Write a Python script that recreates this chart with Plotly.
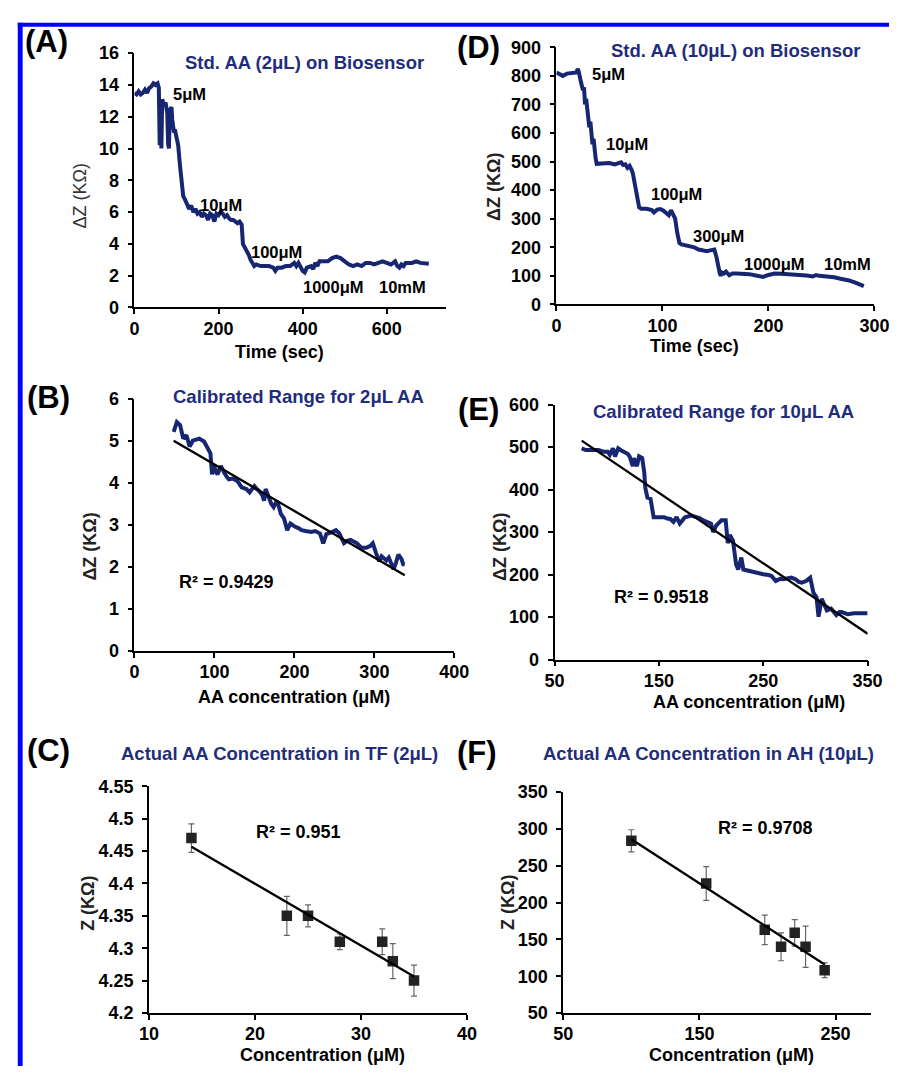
import numpy as np
import plotly.graph_objects as go

W, H = 904, 1076

# ---------------- data ----------------
# (A) Std. AA (2uL) on biosensor : time (sec) vs dZ (KOhm)
A_time = [0, 5, 10, 15, 20, 25, 30, 35, 40, 45, 50, 55, 58, 60, 62, 64, 66, 70, 74, 78, 80, 82, 84,
          88, 90, 94, 96, 100, 104, 108, 112, 116, 120, 126, 130, 135, 140, 145, 150, 155, 160, 165,
          170, 175, 180, 185, 190, 195, 200, 205, 210, 215, 220, 225, 230, 235, 240, 245, 250, 255,
          258, 262, 268, 272, 276, 280, 285, 290, 300, 310, 320, 330, 335, 340, 350, 360, 370, 380,
          385, 390, 395, 400, 405, 410, 420, 425, 430, 435, 440, 450, 460, 470, 480, 490, 500, 510,
          520, 530, 540, 550, 560, 570, 580, 590, 600, 610, 620, 625, 630, 635, 640, 645, 660, 670,
          680, 690, 700]
A_dz = [13.5, 13.4, 13.6, 13.4, 13.5, 13.7, 13.5, 13.8, 13.9, 14.1, 14.0, 14.1, 13.8, 10.2, 12.8,
        10.0, 13.1, 12.7, 12.9, 12.2, 10.3, 10.0, 12.4, 12.6, 11.8, 11.0, 11.2, 10.6, 10.2, 9.0, 8.0,
        7.0, 6.8, 6.5, 6.2, 6.4, 6.0, 6.2, 5.9, 6.0, 5.7, 5.9, 5.8, 5.5, 5.9, 5.8, 5.4, 5.9, 5.8, 6.0,
        5.9, 5.7, 5.8, 5.6, 5.5, 5.5, 5.4, 5.3, 5.4, 5.2, 4.0, 3.8, 3.6, 3.3, 3.0, 2.8, 2.6, 2.7, 2.6,
        2.6, 2.6, 2.5, 2.3, 2.5, 2.5, 2.6, 2.6, 2.8, 2.6, 2.8, 2.5, 2.3, 2.2, 2.5, 2.6, 2.4, 2.8, 2.6,
        2.9, 2.9, 2.9, 3.1, 3.2, 3.1, 2.9, 2.7, 2.6, 2.7, 2.6, 2.8, 2.8, 2.7, 2.8, 2.9, 2.8, 2.7, 2.9,
        2.6, 2.5, 2.7, 2.6, 2.8, 2.8, 2.9, 2.8, 2.8, 2.75]
A_labels = ["5\u03bcM", "10\u03bcM", "100\u03bcM", "1000\u03bcM", "10mM"]

# (D) Std. AA (10uL) on biosensor
D_time = [0, 3, 6, 10, 15, 19, 20, 21, 23, 25, 26, 27, 28, 29, 30, 31, 32, 33, 34, 35, 36, 37, 38,
          42, 46, 50, 55, 58, 61, 63, 65, 67, 69, 71, 72, 74, 76, 78, 80, 85, 90, 92, 95, 98, 101,
          104, 106, 108, 110, 112, 114, 116, 118, 122, 126, 130, 134, 138, 142, 146, 149, 151, 152,
          154, 155, 156, 158, 160, 163, 166, 170, 176, 182, 187, 192, 195, 200, 206, 212, 218, 224,
          230, 236, 242, 245, 248, 255, 262, 268, 272, 276, 282, 286, 290]
D_dz = [812, 805, 800, 808, 810, 812, 825, 815, 780, 750, 760, 700, 720, 690, 650, 620, 640, 600,
        560, 580, 530, 510, 492, 492, 495, 495, 490, 495, 497, 488, 490, 478, 485, 470, 460, 420,
        380, 340, 335, 335, 330, 322, 332, 334, 328, 320, 312, 330, 310, 300, 250, 215, 210, 207,
        204, 200, 192, 188, 186, 190, 192, 165, 140, 110, 100, 112, 108, 115, 102, 108, 108, 108,
        106, 102, 98, 96, 103, 108, 107, 106, 104, 103, 101, 98, 103, 100, 98, 95, 90, 88, 84, 76,
        70, 64]
D_labels = ["5\u03bcM", "10\u03bcM", "100\u03bcM", "300\u03bcM", "1000\u03bcM", "10mM"]

# (B) calibrated range 2uL : AA concentration (uM) vs dZ
B_conc = [49, 53, 57, 61, 65, 69, 73, 77, 81, 87, 91, 95, 97, 99, 102, 104, 108, 110, 112, 115, 118,
          123, 128, 131, 134, 140, 144, 147, 150, 153, 156, 160, 162, 164, 168, 171, 174, 178, 181,
          183, 187, 191, 195, 198, 201, 205, 209, 214, 221, 226, 232, 236, 238, 240, 246, 252, 256,
          259, 262, 266, 270, 274, 278, 284, 290, 295, 298, 302, 306, 309, 312, 315, 318, 321, 324,
          327, 330, 334, 336, 338]
B_dz = [5.21, 5.44, 5.37, 5.05, 5.13, 4.86, 5.0, 5.02, 5.05, 4.98, 4.85, 4.70, 4.20, 4.43, 4.25,
        4.2, 4.4, 4.3, 4.25, 4.15, 4.08, 4.1, 4.05, 3.98, 3.89, 3.85, 3.77, 3.85, 3.92, 3.85, 3.80,
        3.70, 3.57, 3.85, 3.65, 3.50, 3.42, 3.57, 3.40, 3.26, 3.15, 2.87, 3.03, 2.98, 2.95, 2.92,
        2.87, 2.85, 2.83, 2.85, 2.79, 2.56, 2.70, 2.78, 2.82, 2.87, 2.80, 2.65, 2.56, 2.62, 2.64,
        2.60, 2.56, 2.45, 2.45, 2.50, 2.56, 2.33, 2.13, 2.25, 2.20, 2.15, 2.22, 2.05, 1.94, 2.10,
        2.29, 2.18, 2.06, 2.05]
B_r2 = "R\u00b2 = 0.9429"

# (E) calibrated range 10uL
E_conc = [76, 80, 86, 92, 97, 101, 103, 106, 108, 111, 114, 117, 120, 122, 125, 126, 129, 131, 134,
          136, 137, 139, 142, 145, 150, 155, 158, 161, 164, 167, 170, 173, 175, 181, 186, 189, 192,
          195, 200, 202, 205, 210, 214, 216, 218, 221, 224, 226, 229, 231, 237, 243, 250, 255, 258,
          262, 266, 269, 273, 277, 281, 284, 287, 291, 295, 298, 301, 303, 306, 309, 311, 315, 318,
          320, 323, 325, 331, 337, 345, 350]
E_dz = [497, 493, 493, 493, 489, 489, 482, 497, 478, 497, 492, 489, 484, 478, 455, 474, 455, 478,
        474, 440, 404, 381, 378, 335, 335, 335, 332, 331, 324, 335, 320, 328, 335, 339, 335, 333,
        328, 324, 320, 300, 316, 328, 328, 274, 293, 280, 224, 212, 240, 212, 208, 205, 201, 199,
        197, 185, 190, 189, 192, 193, 189, 183, 181, 185, 193, 158, 147, 101, 143, 125, 116, 120,
        110, 105, 112, 112, 107, 109, 109, 109]
E_r2 = "R\u00b2 = 0.9518"

# (C) actual AA concentration in TF (2uL)
C_conc = [14, 23, 25, 28, 32, 33, 35]
C_z = [4.47, 4.35, 4.35, 4.31, 4.31, 4.28, 4.25]
C_err = [0.022, 0.03, 0.017, 0.012, 0.02, 0.027, 0.024]
C_r2 = "R\u00b2 = 0.951"

# (F) actual AA concentration in AH (10uL)
F_conc = [100, 155, 198, 210, 220, 228, 242]
F_z = [284, 226, 163, 140, 159, 140, 108]
F_err = [15, 23, 20, 19, 18, 28, 10]
F_r2 = "R\u00b2 = 0.9708"

# tick labels
A_xticks = [0, 200, 400, 600]
A_yticks = [0, 2, 4, 6, 8, 10, 12, 14, 16]
D_xticks = [0, 100, 200, 300]
D_yticks = [0, 100, 200, 300, 400, 500, 600, 700, 800, 900]
B_xticks = [0, 100, 200, 300, 400]
B_yticks = [0, 1, 2, 3, 4, 5, 6]
E_xticks = [50, 150, 250, 350]
E_yticks = [0, 100, 200, 300, 400, 500, 600]
C_xticks = [10, 20, 30, 40]
C_yticks = [4.2, 4.25, 4.3, 4.35, 4.4, 4.45, 4.5, 4.55]
C_yticktext = ["4.2", "4.25", "4.3", "4.35", "4.4", "4.45", "4.5", "4.55"]
F_xticks = [50, 150, 250]
F_yticks = [50, 100, 150, 200, 250, 300, 350]

# ---------------- styling ----------------
FONT = "Liberation Sans"
NAVY = "#162670"
TITLE_C = "#1f2d7b"
BLUE = "#0000ff"


def px(x):
    return x / W


def py(y):
    return 1 - y / H


fig = go.Figure()

for xs, ys, xa, ya in [(A_time, A_dz, "x", "y"), (D_time, D_dz, "x2", "y2"),
                       (B_conc, B_dz, "x3", "y3"), (E_conc, E_dz, "x4", "y4")]:
    fig.add_trace(go.Scatter(x=xs, y=ys, mode="lines", line=dict(color=NAVY, width=4),
                             xaxis=xa, yaxis=ya, showlegend=False))

for xs, ys, es, xa, ya in [(C_conc, C_z, C_err, "x5", "y5"), (F_conc, F_z, F_err, "x6", "y6")]:
    fig.add_trace(go.Scatter(x=xs, y=ys, mode="markers",
                             marker=dict(symbol="square", size=10.5, color="#222222"),
                             error_y=dict(type="data", array=es, color="#666666", thickness=1.2, width=3),
                             xaxis=xa, yaxis=ya, showlegend=False))

# linear fits (computed from the data)
for xs, ys, xa, ya in [(B_conc, B_dz, "x3", "y3"), (E_conc, E_dz, "x4", "y4"),
                       (C_conc, C_z, "x5", "y5"), (F_conc, F_z, "x6", "y6")]:
    k, b = np.polyfit(xs, ys, 1)
    xx = np.array([min(xs), max(xs)])
    fig.add_trace(go.Scatter(x=xx, y=k * xx + b, mode="lines", line=dict(color="black", width=2.3),
                             xaxis=xa, yaxis=ya, showlegend=False))

tickfont = dict(family=FONT, size=18, color="black", weight="bold")


def axis(domain_px, rng, tickvals, ticktext=None, horizontal=True, anchor=None):
    if horizontal:
        dom = [px(domain_px[0]), px(domain_px[1])]
    else:
        dom = [py(domain_px[1]), py(domain_px[0])]
    d = dict(domain=dom, range=rng, tickvals=tickvals, showline=True, linecolor="black",
             linewidth=1.6, ticks="outside", ticklen=5, tickwidth=1.5, tickcolor="black",
             showgrid=False, zeroline=False, tickfont=tickfont, anchor=anchor, fixedrange=True,
             ticklabelstandoff=(-1 if horizontal else 5))
    if ticktext is not None:
        d["ticktext"] = ticktext
    return d


layout_axes = {
    "xaxis": axis((128, 448), [0, 740], A_xticks, anchor="y"),
    "yaxis": axis((44, 303), [0, 16], A_yticks, horizontal=False, anchor="x"),
    "xaxis2": axis((562, 889), [0, 300], D_xticks, anchor="y2"),
    "yaxis2": axis((38, 300), [0, 900], D_yticks, horizontal=False, anchor="x2"),
    "xaxis3": axis((128, 457), [0, 400], B_xticks, anchor="y3"),
    "yaxis3": axis((396, 653), [0, 6], B_yticks, horizontal=False, anchor="x3"),
    "xaxis4": axis((560, 882), [50, 350], E_xticks, anchor="y4"),
    "yaxis4": axis((402, 662), [0, 600], E_yticks, horizontal=False, anchor="x4"),
    "xaxis5": axis((143, 470), [10, 40], C_xticks, anchor="y5"),
    "yaxis5": axis((791, 1022), [4.2, 4.55], C_yticks, C_yticktext, horizontal=False, anchor="x5"),
    "xaxis6": axis((569, 885), [50, 275.7], F_xticks, anchor="y6"),
    "yaxis6": axis((797, 1022), [50, 350], F_yticks, horizontal=False, anchor="x6"),
}

ann = []


def txt(text, x, y, size=18, color="black", bold=True, angle=0, xanchor="center"):
    ann.append(dict(text=text, x=px(x), y=py(y), xref="paper", yref="paper", showarrow=False,
                    xanchor=xanchor, yanchor="middle", textangle=angle,
                    font=dict(family=FONT, size=size, color=color, weight="bold" if bold else "normal")))


# panel letters
for lab, x, y in [("(A)", 38, 32), ("(D)", 482, 38), ("(B)", 40, 395), ("(E)", 482, 407),
                  ("(C)", 40, 755), ("(F)", 480, 757)]:
    txt(lab, x, y, size=31)

# titles
txt("Std. AA (2\u03bcL) on Biosensor", 303, 53, size=18.5, color=TITLE_C)
txt("Std. AA (10\u03bcL) on Biosensor", 746, 41, size=18.5, color=TITLE_C)
txt("Calibrated Range for 2\u03bcL AA", 297, 394, size=18.5, color=TITLE_C)
txt("Calibrated Range for 10\u03bcL AA", 734, 409, size=18.5, color=TITLE_C)
txt("Actual AA Concentration in TF (2\u03bcL)", 277, 758, size=18.5, color=TITLE_C)
txt("Actual AA Concentration in AH (10\u03bcL)", 718, 758, size=18.5, color=TITLE_C)

# axis titles
txt("Time (sec)", 277, 348)
txt("Time (sec)", 704, 342)
txt("AA concentration (\u03bcM)", 292, 700)
txt("AA concentration (\u03bcM)", 760, 705)
txt("Concentration (\u03bcM)", 321, 1065)
txt("Concentration (\u03bcM)", 742, 1065)
txt("\u0394Z (K\u03a9)", 72, 190, bold=False, color="#333333", angle=-90)
txt("\u0394Z (K\u03a9)", 497, 180, angle=-90, color="#222222")
txt("\u0394Z (K\u03a9)", 82, 547, angle=-90, color="#222222")
txt("\u0394Z (K\u03a9)", 504, 547, angle=-90, color="#222222")
txt("Z (K\u03a9)", 80, 910, angle=-90, color="#222222")
txt("Z (K\u03a9)", 512, 909, angle=-90, color="#222222")

# R^2
txt(B_r2, 223, 583)
txt(E_r2, 670, 598)
txt(C_r2, 297, 838)
txt(F_r2, 777, 833)

# concentration step labels (data anchored)
for lab, t, v in zip(A_labels, [132, 205, 337, 474, 638], [13.4, 6.46, 3.48, 1.31, 1.31]):
    ann.append(dict(text=lab, x=t, y=v, xref="x", yref="y", showarrow=False,
                    font=dict(family=FONT, size=16.5, color="black", weight="bold")))
for lab, t, v in zip(D_labels, [49.5, 67, 113, 153, 206, 275], [807, 561, 387, 238, 140, 140]):
    ann.append(dict(text=lab, x=t, y=v, xref="x2", yref="y2", showarrow=False,
                    font=dict(family=FONT, size=16.5, color="black", weight="bold")))

shapes = [
    dict(type="rect", xref="paper", yref="paper", x0=px(8), x1=1, y0=py(17), y1=py(13),
         fillcolor=BLUE, line=dict(width=0)),
    dict(type="rect", xref="paper", yref="paper", x0=px(8), x1=px(13), y0=0, y1=py(13),
         fillcolor=BLUE, line=dict(width=0)),
]

fig.update_layout(width=W, height=H, margin=dict(l=0, r=0, t=0, b=0), autosize=False,
                  paper_bgcolor="white", plot_bgcolor="white", annotations=ann, shapes=shapes,
                  font=dict(family=FONT), **layout_axes)

fig.write_html("out.html", config={"displayModeBar": False})
